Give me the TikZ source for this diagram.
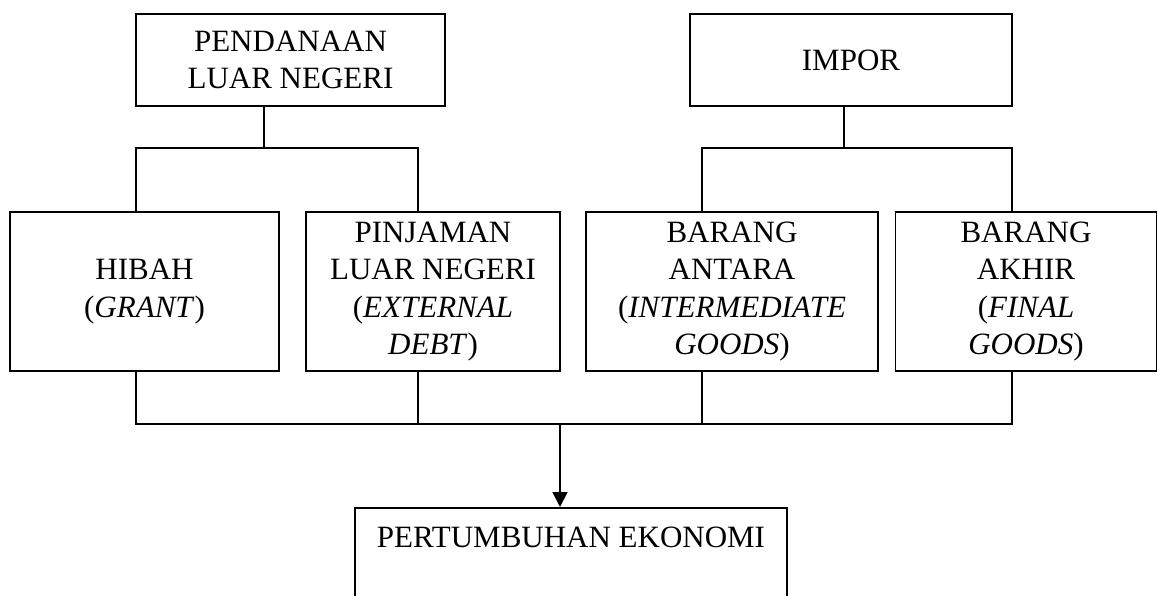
\documentclass[tikz,border=0pt]{standalone}
\usepackage{fontspec}
\setmainfont{Liberation Serif}
\usetikzlibrary{arrows.meta}
\begin{document}
\begin{tikzpicture}[x=1pt,y=-1pt,
  box/.style={draw, line width=1.7pt, inner sep=0pt, align=center, font=\fontsize{31}{37.5}\selectfont},
  conn/.style={line width=1.7pt},
  lbl/.style={inner sep=0pt, font=\fontsize{31}{37.5}\selectfont}]
\useasboundingbox (0,0) rectangle (1158,595);
\clip (0,0) rectangle (1158,595);
% top boxes
\node[box, minimum width=309pt, minimum height=92pt] (pln) at (290.5,60) {PENDANAAN\\LUAR NEGERI};
\node[box, minimum width=322pt, minimum height=92pt] (imp) at (851,60) {IMPOR};
% middle boxes
\node[box, minimum width=269pt, minimum height=159pt] (hib) at (144.5,291.5) {HIBAH\\(\textit{GRANT})};
\node[box, minimum width=254pt, minimum height=159pt] (pin) at (433,291.5) {PINJAMAN\\LUAR NEGERI\\(\textit{EXTERNAL}\\\textit{DEBT})};
\node[box, minimum width=292pt, minimum height=159pt] (ant) at (732,291.5) {BARANG\\ANTARA\\(\textit{INTERMEDIATE}\\\textit{GOODS})};
\node[box, minimum width=261pt, minimum height=159pt] (akh) at (1026,291.5) {BARANG\\AKHIR\\(\textit{FINAL}\\\textit{GOODS})};
% bottom box
\node[box, minimum width=432pt, minimum height=140pt, anchor=north] (pe) at (571,507) {};
\node[lbl, anchor=base] (pet) at (571,547) {PERTUMBUHAN EKONOMI};
% junction coordinates
\coordinate (sL) at (264,148);
\coordinate (sR) at (844,148);
\coordinate (b1) at (136,424);
\coordinate (b2) at (418,424);
\coordinate (b3) at (702,424);
\coordinate (b4) at (1012,424);
\coordinate (ar) at (560,424);
% connectors
\draw[conn] (pln.south -| sL) -- (sL);
\draw[conn] (hib.north -| b1) -- (b1 |- sL) -- (b2 |- sL) -- (pin.north -| b2);
\draw[conn] (imp.south -| sR) -- (sR);
\draw[conn] (ant.north -| b3) -- (b3 |- sR) -- (b4 |- sR) -- (akh.north -| b4);
\draw[conn] (hib.south -| b1) -- (b1) -- (b4) -- (akh.south -| b4);
\draw[conn] (pin.south -| b2) -- (b2);
\draw[conn] (ant.south -| b3) -- (b3);
\draw[conn, -{Triangle[width=15pt,length=15pt]}] (ar) -- (pe.north -| ar);
\end{tikzpicture}
\end{document}
